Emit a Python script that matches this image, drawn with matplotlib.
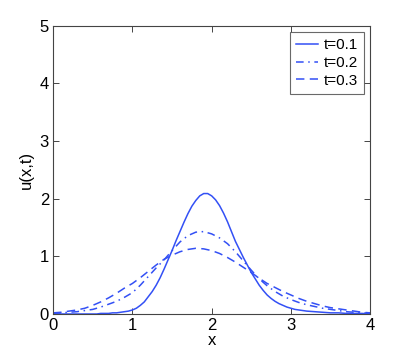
import matplotlib
matplotlib.use("Agg")
import matplotlib.pyplot as plt

plt.rcParams['font.family'] = ['Liberation Sans', 'DejaVu Sans']

# values; x = 0.0, 0.1, ..., 4.0 for the wide curves
x = [i / 10 for i in range(41)]
# the narrow t=0.1 curve was read every 0.05
x_fine = [i / 20 for i in range(81)]

u_t01 = [0.00, 0.00, 0.00, 0.00, 0.00, 0.00, 0.00, 0.00, 0.00, 0.00,
         0.00, 0.00, 0.01, 0.01, 0.01, 0.02, 0.02, 0.03, 0.04, 0.05,
         0.07, 0.10, 0.15, 0.21, 0.30, 0.39, 0.50, 0.63, 0.78, 0.94,
         1.10, 1.27, 1.43, 1.59, 1.74, 1.87, 1.97, 2.05, 2.09, 2.09,
         2.05, 1.98, 1.88, 1.75, 1.60, 1.43, 1.26, 1.12, 0.98, 0.85,
         0.72, 0.61, 0.50, 0.41, 0.33, 0.27, 0.22, 0.18, 0.15, 0.12,
         0.10, 0.08, 0.07, 0.06, 0.05, 0.045, 0.04, 0.035, 0.03, 0.025,
         0.02, 0.02, 0.02, 0.015, 0.01, 0.01, 0.01, 0.01, 0.01, 0.005,
         0.00]
u_t02 = [0.01, 0.02, 0.03, 0.04, 0.06, 0.08, 0.12, 0.17, 0.22, 0.29,
         0.37, 0.50, 0.65, 0.80, 0.94, 1.10, 1.25, 1.36, 1.42, 1.43,
         1.39, 1.32, 1.22, 1.08, 0.92, 0.76, 0.61, 0.49, 0.39, 0.31,
         0.25, 0.20, 0.16, 0.13, 0.10, 0.08, 0.06, 0.04, 0.03, 0.02,
         0.01]
u_t03 = [0.02, 0.03, 0.05, 0.07, 0.10, 0.15, 0.21, 0.28, 0.36, 0.45,
         0.53, 0.63, 0.74, 0.85, 0.95, 1.02, 1.08, 1.12, 1.14, 1.13,
         1.10, 1.05, 0.98, 0.90, 0.81, 0.72, 0.62, 0.53, 0.46, 0.39,
         0.33, 0.27, 0.22, 0.18, 0.14, 0.11, 0.09, 0.07, 0.05, 0.03,
         0.02]

labels = ['t=0.1', 't=0.2', 't=0.3']
blue = '#3350f5'

fig = plt.figure(figsize=(4.09, 3.54), dpi=100)
ax = fig.add_axes([0.130, 0.113, 0.775, 0.814])

ax.plot(x_fine, u_t01, color=blue, lw=1.1, ls='-', label=labels[0])
ax.plot(x, u_t02, color=blue, lw=1.1, ls=(0, (5, 3, 1, 3)), label=labels[1])
ax.plot(x, u_t03, color=blue, lw=1.1, ls=(0, (5.5, 3.5)), label=labels[2])

ax.set_xlim(0, 4)
ax.set_ylim(0, 5)
ax.set_xticks([0, 1, 2, 3, 4])
ax.set_yticks([0, 1, 2, 3, 4, 5])
ax.tick_params(direction='in', top=True, right=True, labelsize=12,
               length=4, width=0.7, color='#444444', pad=3)
for s in ax.spines.values():
    s.set_color('#444444')
    s.set_linewidth(0.8)

ax.set_xlabel('x', fontsize=12, labelpad=0)
ax.set_ylabel('u(x,t)', fontsize=12, labelpad=4)

leg = ax.legend(loc='upper right', fontsize=11, frameon=True, fancybox=False,
                handlelength=1.4, handletextpad=0.4, borderpad=0.4,
                labelspacing=0.25, borderaxespad=0.4)
leg.get_frame().set_edgecolor('#444444')
leg.get_frame().set_linewidth(0.8)

fig.savefig('out.png', dpi=100)
